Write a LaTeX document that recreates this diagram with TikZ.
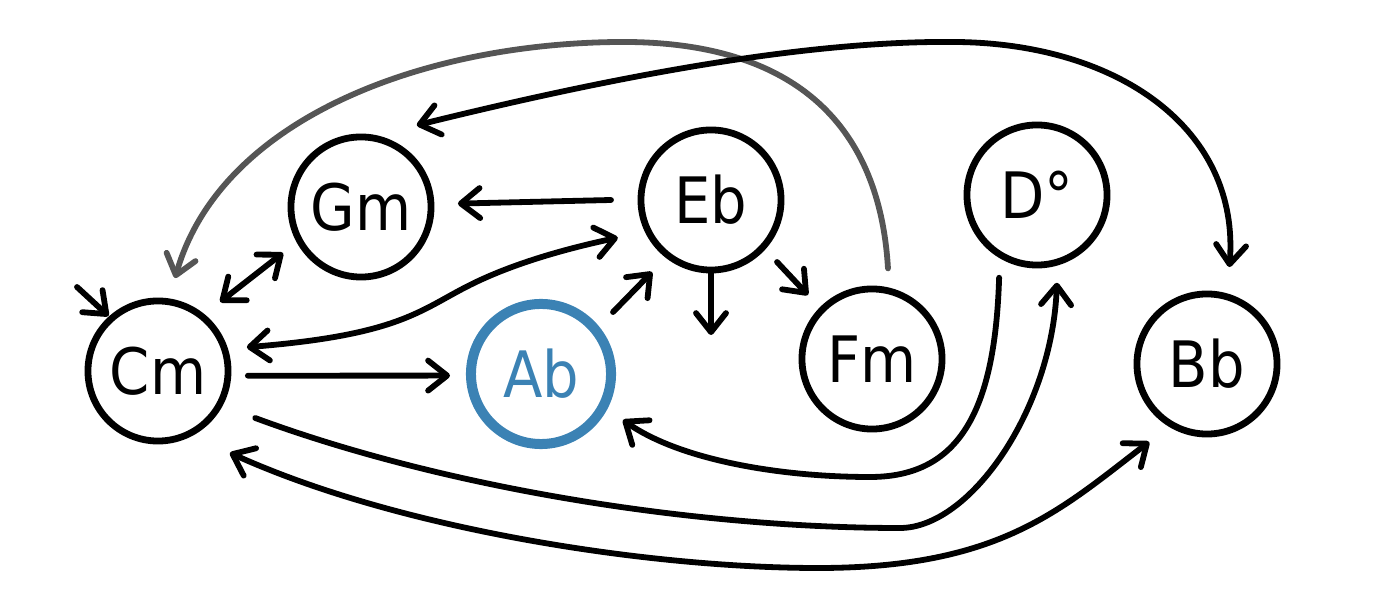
\documentclass[tikz,border=0pt]{standalone}
\usepackage{fontspec}
\setmainfont{DejaVu Sans Condensed}
\usetikzlibrary{arrows.meta,calc}
\definecolor{abblue}{RGB}{59,130,180}
\definecolor{edgegray}{RGB}{85,85,85}
\begin{document}
\begin{tikzpicture}[x=0.01cm,y=0.01cm,
  >={Straight Barb[length=0.19cm,width=0.3cm,round]},
  state/.style={circle,draw=black,line width=0.068cm,minimum size=1.4cm,inner sep=0pt,outer sep=0pt,font=\fontsize{18.2pt}{20pt}\selectfont},
  hl/.style={draw=abblue,text=abblue,line width=0.1cm},
  edge/.style={line width=0.058cm,line cap=round},
  grayedge/.style={edge,draw=edgegray}
]
\useasboundingbox (0,0) rectangle (1400,600);

\node[state] (Cm) at (158,229) {Cm};
\node[state] (Gm) at (361,393) {Gm};
\node[state] (Eb) at (711,400) {Eb};
\node[state,hl] (Ab) at (541,226) {Ab};
\node[state] (Fm) at (872,241) {Fm};
\node[state] (Do) at (1037,405) {D°};
\node[state] (Bb) at (1207,236) {Bb};

\coordinate (init) at (77,313);
\coordinate (dangle) at (711,265);

% initial arrow
\draw[edge,->] (init) -- ($(Cm)+(132:74)$);
% gray Fm -> Cm
\draw[grayedge,->] ($(Fm)+(80:92)$) .. controls (880,470) and (800,560) .. (617,558)
   .. controls (420,556) and (220,480) .. ($(Cm)+(79.6:94.5)$);
% Gm <-> Bb over the top
\draw[edge,<->] ($(Gm)+(55.7:99)$) .. controls (600,520) and (800,560) .. (957,558)
   .. controls (1120,556) and (1240,470) .. ($(Bb)+(77:99.5)$);
% Eb -> Gm
\draw[edge,->] ($(Eb)+(180:100)$) -- ($(Gm)+(2:97)$);
% Cm <-> Eb
\draw[edge,<->] ($(Cm)+(15:92)$) .. controls (400,265) and (420,290) .. (470,315)
   .. controls (510,335) and (560,350) .. ($(Eb)+(202:100.5)$);
% Cm -> Ab
\draw[edge,->] ($(Cm)+(-3:90)$) -- ($(Ab)+(181:91)$);
% Ab -> Eb
\draw[edge,->] ($(Ab)+(40.7:95)$) -- ($(Eb)+(230.7:93)$);
% Eb -> dangling
\draw[edge,->] (Eb) -- (dangle);
% Eb -> Fm
\draw[edge,->] ($(Eb)+(-43.2:90.6)$) -- ($(Fm)+(135:90.5)$);
% Do -> Ab
\draw[edge,->] ($(Do)+(245.4:91)$) .. controls (995,190) and (960,123) .. (870,123)
   .. controls (780,123) and (680,140) .. ($(Ab)+(-29.3:94)$);
% Cm -> Do
\draw[edge,->] ($(Cm)+(-25.8:108)$) .. controls (450,110) and (700,72) .. (900,72)
   .. controls (970,72) and (1052,190) .. ($(Do)+(-77.2:90)$);
% Cm <-> Bb bottom
\draw[edge,<->] ($(Cm)+(-48.7:109)$) .. controls (400,70) and (650,32) .. (818,32)
   .. controls (1000,32) and (1060,90) .. ($(Bb)+(233.4:97)$);
% Cm <-> Gm
\draw[edge,<->] ($(Cm)+(48:93)$) -- ($(Gm)+(210.5:90.5)$);
\end{tikzpicture}
\end{document}
